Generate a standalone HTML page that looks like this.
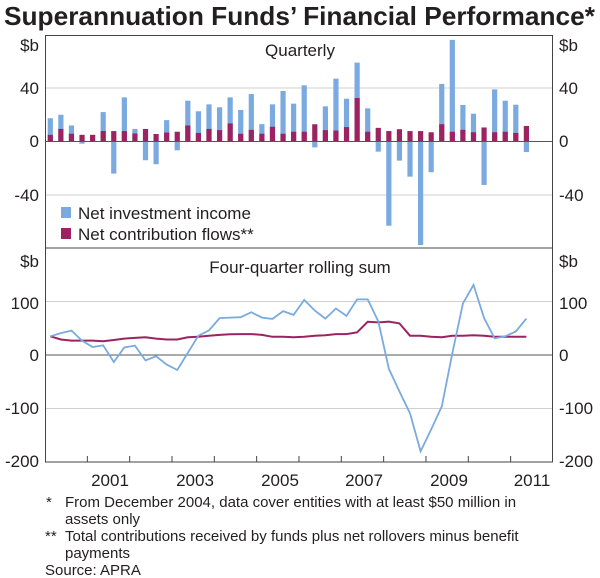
<!DOCTYPE html>
<html><head><meta charset="utf-8"><style>
body{margin:0;background:#fff;}
svg{display:block;font-family:"Liberation Sans",Arial,sans-serif;}
</style></head><body>
<svg id="s" width="600" height="578" viewBox="0 0 600 578" xmlns="http://www.w3.org/2000/svg">
<text x="4" y="25" font-size="26" font-weight="bold" fill="#231f20" textLength="591" lengthAdjust="spacingAndGlyphs">Superannuation Funds’ Financial Performance*</text>
<g id="grid"></g>
<g id="bars"></g>
<g id="lines"></g>
<rect x="45.5" y="35.5" width="507" height="426.5" fill="none" stroke="#444" stroke-width="1"/>
<line x1="45" y1="248" x2="553" y2="248" stroke="#444" stroke-width="1"/>
<g font-size="17" fill="#231f20">
<text x="300" y="56" text-anchor="middle">Quarterly</text>
<text x="300" y="273" text-anchor="middle">Four-quarter rolling sum</text>
<text x="39" y="51" text-anchor="end">$b</text>
<text x="39" y="94" text-anchor="end">40</text>
<text x="39" y="147" text-anchor="end">0</text>
<text x="39" y="201" text-anchor="end">-40</text>
<text x="39" y="267" text-anchor="end">$b</text>
<text x="39" y="309" text-anchor="end">100</text>
<text x="39" y="361" text-anchor="end">0</text>
<text x="39" y="414" text-anchor="end">-100</text>
<text x="39" y="467" text-anchor="end">-200</text>
<text x="559" y="51">$b</text>
<text x="559" y="94">40</text>
<text x="559" y="147">0</text>
<text x="559" y="201">-40</text>
<text x="559" y="267">$b</text>
<text x="559" y="309">100</text>
<text x="559" y="361">0</text>
<text x="559" y="414">-100</text>
<text x="559" y="467">-200</text>
<text x="110" y="486" text-anchor="middle">2001</text>
<text x="195" y="486" text-anchor="middle">2003</text>
<text x="280" y="486" text-anchor="middle">2005</text>
<text x="364" y="486" text-anchor="middle">2007</text>
<text x="449" y="486" text-anchor="middle">2009</text>
<text x="532" y="486" text-anchor="middle">2011</text>
<rect x="61" y="207" width="10" height="11" fill="#7aaadf"/>
<rect x="61" y="228" width="10" height="11" fill="#9b2361"/>
<text x="78" y="219">Net investment income</text>
<text x="78" y="240">Net contribution flows**</text>
</g>
<g font-size="15" fill="#231f20">
<text x="46" y="507">*</text><text x="65" y="507">From December 2004, data cover entities with at least $50 million in</text>
<text x="65" y="524">assets only</text>
<text x="45" y="541">**</text><text x="65" y="541">Total contributions received by funds plus net rollovers minus benefit</text>
<text x="65" y="558">payments</text>
<text x="45" y="575">Source: APRA</text>
</g>
</svg>
<script>
var NS="http://www.w3.org/2000/svg";
function el(p,t,a){var e=document.createElementNS(NS,t);for(var k in a)e.setAttribute(k,a[k]);document.getElementById(p).appendChild(e);return e;}
[88,195,301.5,408.5].forEach(function(y){el("grid","line",{x1:45,x2:553,y1:y,y2:y,stroke:"#d0d0d0","stroke-width":1});});
for(var i=1;i<12;i++){var x=45+i*42.33;el("grid","line",{x1:x,x2:x,y1:456,y2:462,stroke:"#444","stroke-width":1});}
var blue=[17.4,20,12,-1.6,0,22,-24,33,9.4,-14,-17,16,-6.6,30.5,22.6,27.8,25.6,33,23.6,35.5,13,27.8,37.8,28.3,42,-4.4,26.3,47,32,59,24.8,-7.6,-63,-14.3,-26.3,-77.4,-23,43,76,27.3,20.8,-32.5,39,30.5,27.5,-7.9];
var red=[5,9.4,5.8,5,5,7.8,7.8,7.8,6,9.4,5.6,6.7,7.3,12,6.4,9.4,8.5,13.5,5.8,8.7,5.8,11,5.8,7.3,7.3,12.9,8.5,8.2,10.8,32.5,7.3,10.2,7.8,9.2,7.8,7.8,6.9,12.9,7.3,8.7,6.9,10.5,6.9,7.3,6.4,11.6];
function cx(i){return 45+10.58*(i+0.5);}
function yt(v){return 141.5-v*1.337;}
for(var i=0;i<46;i++){
 var x=cx(i)-2.6,b=blue[i],r=red[i];
 if(b!==0){var y1=yt(Math.max(b,0)),y2=yt(Math.min(b,0));el("bars","rect",{x:x,y:y1,width:5.2,height:y2-y1,fill:"#7aaadf"});}
 el("bars","rect",{x:x,y:yt(r),width:5.2,height:yt(0)-yt(r),fill:"#9b2361"});
}
el("bars","line",{x1:45,x2:553,y1:141.5,y2:141.5,stroke:"#555","stroke-width":1});
el("bars","line",{x1:45,x2:553,y1:355,y2:355,stroke:"#555","stroke-width":1});
var bl=[35,41,45.6,27,15,18,-13,14,17.5,-10,-2.5,-18,-28,4,36,46,69,70,70.6,80,70,67.5,82,75,103,83,68,87,73,104,104,63,-26,-68,-109,-180,-139,-96,3,96,131,69,31,35,44,68];
var rl=[35,29,27,27,27,25.6,28,30.6,32,33,30.6,29,29,33,34,36,37.5,38.8,39,39,37.5,34,34,33,34,36,37,39,39,42.5,62,61,62.5,59,36,36,34,33,36,36,37,36,34,34,34,34];
function yb(v){return 355-v*0.535;}
function pts(a){return a.map(function(v,i){return cx(i).toFixed(1)+","+yb(v).toFixed(1);}).join(" ");}
el("lines","polyline",{points:pts(rl),fill:"none",stroke:"#9b2361","stroke-width":2});
el("lines","polyline",{points:pts(bl),fill:"none",stroke:"#7aaadf","stroke-width":1.8});
</script>
</body></html>
